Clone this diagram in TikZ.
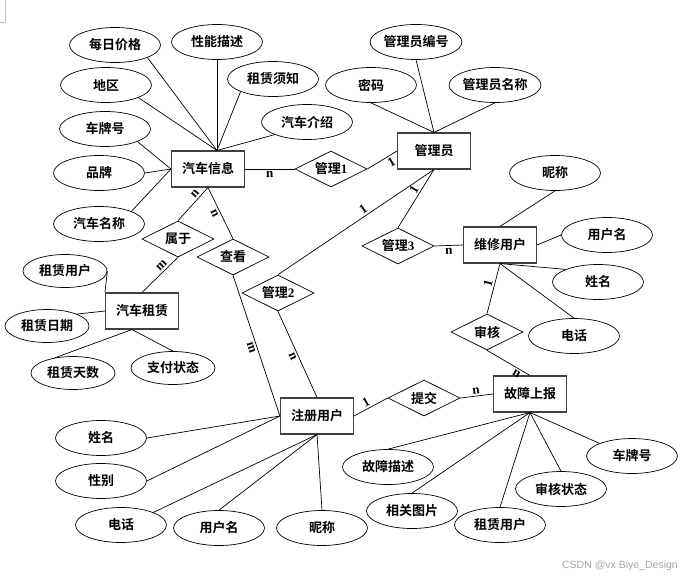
\documentclass[tikz,border=0pt]{standalone}
\usepackage{fontspec}
\setmainfont{Noto Sans CJK SC}[BoldFont={Noto Sans CJK SC Bold}]
\newfontfamily\numfont{Liberation Serif}
\newfontfamily\markfont{Liberation Sans}
\usetikzlibrary{shapes.geometric,calc}

\begin{document}
\begin{tikzpicture}[x=1pt,y=-1pt,
  txt/.style={font=\bfseries\fontsize{13}{13}\selectfont},
  ent/.style={txt,draw=black!75,line width=1.1pt,minimum width=73pt,minimum height=36pt,inner sep=0pt},
  attr/.style={txt,draw,ellipse,line width=.7pt,minimum width=91pt,minimum height=35pt,inner sep=0pt},
  sattr/.style={attr,minimum width=84pt,minimum height=33pt},
  rel/.style={txt,draw,diamond,aspect=2,line width=.7pt,minimum width=72pt,minimum height=36pt,inner sep=0pt},
  lbl/.style={font=\numfont\bfseries\fontsize{13}{13}\selectfont,inner sep=2pt,sloped},
  l/.style={line width=.7pt}
]
\useasboundingbox (0,0) rectangle (682,581);
\draw[black!25] (5,0) -- (5,22) -- (0,22);

\node[ent] (carinfo) at (208,169) {汽车信息};
\node[ent] (admin) at (434,151) {管理员};
\node[ent] (repair) at (500,245) {维修用户};
\node[ent] (report) at (530,394) {故障上报};
\node[ent] (reguser) at (317,416) {注册用户};
\node[ent] (rental) at (142,311) {汽车租赁};

\node[rel] (manage1) at (331,169) {管理{\numfont 1}};
\node[rel] (manage2) at (278,293) {管理{\numfont 2}};
\node[rel] (manage3) at (398,246) {管理{\numfont 3}};
\node[rel] (belong) at (178,239) {属于};
\node[rel] (view) at (233,257) {查看};
\node[rel] (audit) at (487,332) {审核};
\node[rel] (submit) at (424,398) {提交};

\node[attr] (price) at (115,45) {每日价格};
\node[attr] (perf) at (217,42) {性能描述};
\node[attr] (notice) at (273,79) {租赁须知};
\node[attr] (region) at (106,85) {地区};
\node[attr] (intro) at (307,122) {汽车介绍};
\node[attr] (plate) at (105,129) {车牌号};
\node[attr] (brand) at (99,173) {品牌};
\node[attr] (carname) at (99,224) {汽车名称};

\node[attr] (adminno) at (416,42) {管理员编号};
\node[attr] (pwd) at (371,85) {密码};
\node[attr] (adminname) at (495,85) {管理员名称};

\node[attr] (rnick) at (555,173) {昵称};
\node[attr] (rlogin) at (607,235) {用户名};
\node[attr] (rname) at (598,282) {姓名};
\node[attr] (rtel) at (574,336) {电话};

\node[attr] (fdesc) at (388,467) {故障描述};
\node[attr] (fpic) at (412,511) {相关图片};
\node[attr] (frent) at (500,525) {租赁用户};
\node[attr] (fstate) at (561,489) {审核状态};
\node[attr] (fplate) at (632,456) {车牌号};

\node[attr] (uname) at (101,438) {姓名};
\node[attr] (usex) at (101,481) {性别};
\node[attr] (utel) at (121,525) {电话};
\node[attr] (ulogin) at (219,528) {用户名};
\node[attr] (unick) at (322,528) {昵称};

\node[sattr] (lrent) at (65,271) {租赁用户};
\node[sattr] (ldate) at (47,326) {租赁日期};
\node[sattr] (ldays) at (73,373) {租赁天数};
\node[sattr] (lpay) at (173,368) {支付状态};

\foreach \a/\p in {price/south east,region/south east,perf/south,notice/south west,intro/south west}
  \draw[l] (\a.\p) -- ([xshift=9pt]carinfo.north);
\foreach \a/\p in {plate/south east,brand/east,carname/north east}
  \draw[l] (\a.\p) -- (carinfo.west);
\foreach \a in {adminno,pwd,adminname}
  \draw[l] (\a.south) -- (admin.north);
\draw[l] (rnick.south) -- (repair.north);
\draw[l] (rlogin.west) -- (repair.east);
\draw[l] (rname.north west) -- (repair.south);
\draw[l] (rtel.north) -- (repair.south);
\foreach \a/\p in {fdesc/north,fpic/north,frent/north,fstate/north,fplate/north west}
  \draw[l] (\a.\p) -- (report.south);
\foreach \a/\p in {uname/east,usex/east}
  \draw[l] (\a.\p) -- (reguser.west);
\foreach \a/\p in {utel/north east,ulogin/north,unick/north}
  \draw[l] (\a.\p) -- (reguser.south);
\draw[l] (lrent.east) -- (rental.north west);
\draw[l] (ldate.north east) -- (rental.west);
\draw[l] (ldays.140) -- ([xshift=-10pt]rental.south);
\draw[l] (lpay.north) -- ([xshift=-10pt]rental.south);

\draw[l] (carinfo.east) -- node[lbl,below] {n} (manage1.west);
\draw[l] (manage1.east) -- node[lbl,pos=.7,below] {1} (admin.west);
\draw[l] (admin.south) -- node[lbl,pos=.43,above] {1} (manage2.north);
\draw[l] (admin.south) -- node[lbl,pos=.4,above] {1} (manage3.north);
\draw[l] (manage3.east) -- node[lbl,below] {n} (repair.west);
\draw[l] (repair.south) -- node[lbl,pos=.42,above] {1} (audit.north);
\draw[l] (audit.south) -- node[lbl,pos=.75,below] {n} (report.north);
\draw[l] (reguser.east) -- node[lbl,pos=.45,above] {1} (submit.west);
\draw[l] (submit.east) -- node[lbl,above] {n} (report.west);
\draw[l] (carinfo.south) -- node[lbl,pos=.3,above] {n} (belong.north);
\draw[l] (carinfo.south) -- node[lbl,pos=.45,below] {n} (view.north);
\draw[l] (belong.south) -- node[lbl,pos=.35,above] {m} (rental.north);
\draw[l] (view.south) -- node[lbl,pos=.5,below] {m} (reguser.west);
\draw[l] (manage2.south) -- node[lbl,pos=.5,below] {n} (reguser.north);

\node[font=\markfont\fontsize{10.5}{10.5}\selectfont,text=black!35] (mark) at (620,566) {CSDN @vx Biye\_Design};
\end{tikzpicture}
\end{document}
